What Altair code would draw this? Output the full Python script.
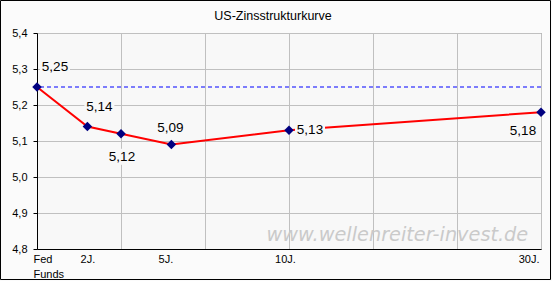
import altair as alt
import pandas as pd

# ---- data ----
CATEGORIES = ["Fed Funds", "2J.", "3J.", "5J.", "10J.", "30J."]
X_VALUES = [0.0, 0.6, 1.0, 1.6, 3.0, 6.0]          # category positions on the x scale
YIELDS = [5.25, 5.14, 5.12, 5.09, 5.13, 5.18]
X_TICK_VALUES = [0.0, 0.6, 1.6, 3.0, 6.0]
X_TICK_LABELS = [["Fed", "Funds"], "2J.", "5J.", "10J.", "30J."]
X_GRID = [0, 1, 2, 3, 4, 5, 6]
Y_TICKS = [4.8, 4.9, 5.0, 5.1, 5.2, 5.3, 5.4]
FED_LEVEL = 5.25
TITLE = "US-Zinsstrukturkurve"
WATERMARK = "www.wellenreiter-invest.de"

# ---- styling ----
LABEL_DX = [18, 12, 1, -1, 21, -18]
LABEL_DY = [-20, -20, 23, -17, 0, 19]
FONT = "Liberation Sans"
PLOT_BG = "#f8f8f8"
PAGE_BG = "#fbfbfb"

df = pd.DataFrame({"cat": CATEGORIES, "x": X_VALUES, "y": YIELDS, "i": list(range(len(YIELDS)))})


def js(v):
    if isinstance(v, list):
        return "[" + ",".join("'%s'" % s for s in v) + "]"
    return "'%s'" % v


label_expr = ""
for v, lab in zip(X_TICK_VALUES, X_TICK_LABELS):
    label_expr += "datum.value == %s ? %s : " % (v, js(lab))
label_expr += "''"

axis_values = sorted(set(X_GRID) | set(X_TICK_VALUES))
no_grid = [v for v in axis_values if v not in X_GRID]
no_grid_test = " || ".join("datum.value == %s" % v for v in no_grid)

x_axis = alt.Axis(
    values=axis_values,
    tickCount=30,
    labelExpr=label_expr,
    title=None,
    grid=True,
    gridColor="#c0c0c0",
    gridOpacity={"condition": {"test": no_grid_test, "value": 0}, "value": 1},
    ticks=False,
    domainColor="#000000",
    labelFont=FONT,
    labelFontSize=11,
    labelColor="#000000",
    labelPadding=4,
    labelBaseline="top",
    labelLineHeight=15,
    labelAlign={
        "condition": [
            {"test": "datum.value == 0", "value": "left"},
            {"test": "datum.value == 6", "value": "right"},
        ],
        "value": "center",
    },
    labelOffset={
        "condition": [
            {"test": "datum.value == 0", "value": -4},
            {"test": "datum.value == 1.6", "value": -6},
            {"test": "datum.value == 3", "value": -4},
            {"test": "datum.value == 6", "value": -2},
        ],
        "value": 0,
    },
    labelOverlap=False,
    labelFlush=False,
)
y_axis = alt.Axis(
    values=Y_TICKS,
    tickCount=30,
    format=".1f",
    labelExpr="replace(datum.label, '.', ',')",
    title=None,
    grid=True,
    gridColor="#c0c0c0",
    tickColor="#000000",
    tickSize=4,
    domainColor="#000000",
    labelFont=FONT,
    labelFontSize=11,
    labelColor="#000000",
    labelPadding=6,
    labelOverlap=False,
    labelFlush=False,
)

X = alt.X("x:Q", scale=alt.Scale(domain=[0, 6], nice=False), axis=x_axis)
Y = alt.Y("y:Q", scale=alt.Scale(domain=[4.8, 5.4], nice=False, zero=False), axis=y_axis)

base = alt.Chart(df)

line = base.mark_line(color="#ff0000", strokeWidth=2).encode(x=X, y=Y)

fed = alt.Chart(pd.DataFrame({"y": [FED_LEVEL]})).mark_rule(
    color="#0000ff", stroke="#0000ff", strokeOpacity=1, strokeDash=[4, 3], strokeWidth=1
).encode(y=Y)

label_layers = []
for i in range(len(YIELDS)):
    sub = base.transform_filter("datum.i == %d" % i).transform_calculate(
        lab="replace(format(datum.y, '.2f'), '.', ',')"
    )
    box = sub.mark_rect(
        width=30, height=16, color=PLOT_BG, xOffset=LABEL_DX[i], yOffset=LABEL_DY[i]
    ).encode(x=X, y=Y)
    txt = sub.mark_text(
        font=FONT, fontSize=13.5, color="#000000", align="center", baseline="middle",
        dx=LABEL_DX[i], dy=LABEL_DY[i],
    ).encode(x=X, y=Y, text="lab:N")
    label_layers += [box, txt]

points = base.mark_point(
    shape="diamond", size=90, filled=True, color="#000080", opacity=1
).encode(x=X, y=Y)

wm = alt.Chart(pd.DataFrame({"t": [WATERMARK]})).mark_text(
    font="DejaVu Sans", fontSize=19.3, fontStyle="italic", color="#cacaca",
    align="center", baseline="middle",
).encode(x=alt.datum(4.29), y=alt.datum(4.839), text="t:N")

title = alt.Chart(pd.DataFrame({"t": [TITLE]})).mark_text(
    font=FONT, fontSize=12.5, color="#000000", align="center", baseline="middle",
).encode(x=alt.value(236), y=alt.value(-17), text="t:N")

border = alt.Chart(pd.DataFrame({"a": [0]})).mark_rect(
    fillOpacity=0, stroke="#000000", strokeWidth=1
).encode(x=alt.value(-36.5), x2=alt.value(513.5), y=alt.value(-32.5), y2=alt.value(246.5))

chart = alt.layer(wm, line, fed, *label_layers, points, title, border).properties(
    width=504,
    height=216,
    autosize=alt.AutoSizeParams(type="none"),
    padding={"left": 37, "top": 33, "right": 11, "bottom": 32},
    background=PAGE_BG,
).configure_view(stroke="#808080", fill=PLOT_BG)

chart.save("out.html", embed_options={"renderer": "svg", "actions": False})
